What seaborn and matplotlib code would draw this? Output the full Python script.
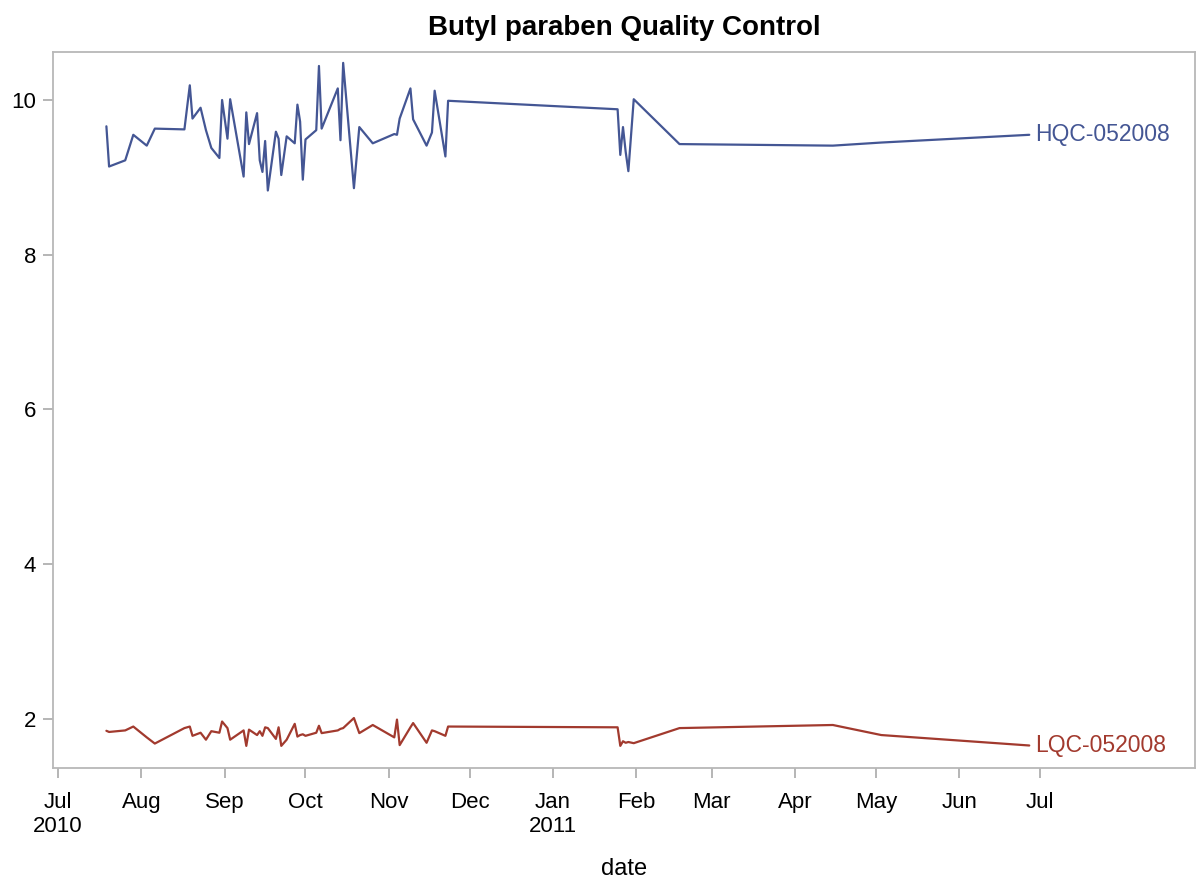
import pandas as pd
import matplotlib
matplotlib.use("Agg")
import matplotlib.pyplot as plt
import seaborn as sns

# run dates (shared by both QC levels)
dates = [
    "2010-07-19", "2010-07-20", "2010-07-26", "2010-07-29", "2010-08-03", "2010-08-06",
    "2010-08-17", "2010-08-19", "2010-08-20", "2010-08-23", "2010-08-25", "2010-08-27",
    "2010-08-30", "2010-08-31", "2010-09-02", "2010-09-03", "2010-09-08", "2010-09-09",
    "2010-09-10", "2010-09-13", "2010-09-14", "2010-09-15", "2010-09-16", "2010-09-17",
    "2010-09-20", "2010-09-21", "2010-09-22", "2010-09-24", "2010-09-27", "2010-09-28",
    "2010-09-29", "2010-09-30", "2010-10-01", "2010-10-05", "2010-10-06", "2010-10-07",
    "2010-10-13", "2010-10-14", "2010-10-15", "2010-10-19", "2010-10-21", "2010-10-26",
    "2010-11-03", "2010-11-04", "2010-11-05", "2010-11-09", "2010-11-10", "2010-11-15",
    "2010-11-17", "2010-11-18", "2010-11-22", "2010-11-23", "2011-01-25", "2011-01-26",
    "2011-01-27", "2011-01-28", "2011-01-29", "2011-01-31", "2011-02-17", "2011-04-15",
    "2011-05-03", "2011-06-27",
]

hqc = [
    9.66, 9.14, 9.22, 9.55, 9.41, 9.63,
    9.62, 10.19, 9.76, 9.90, 9.61, 9.38,
    9.25, 10.00, 9.50, 10.01, 9.01, 9.84,
    9.43, 9.83, 9.22, 9.07, 9.47, 8.83,
    9.59, 9.50, 9.03, 9.53, 9.44, 9.94,
    9.72, 8.97, 9.49, 9.61, 10.44, 9.63,
    10.15, 9.48, 10.48, 8.86, 9.65, 9.44,
    9.56, 9.55, 9.76, 10.15, 9.75, 9.41,
    9.58, 10.12, 9.27, 9.99, 9.88, 9.29,
    9.65, 9.33, 9.08, 10.01, 9.43, 9.41,
    9.45, 9.55,
]

lqc = [
    1.845, 1.83, 1.85, 1.90, 1.76, 1.68,
    1.88, 1.90, 1.78, 1.82, 1.73, 1.84,
    1.82, 1.965, 1.88, 1.73, 1.85, 1.65,
    1.86, 1.79, 1.84, 1.78, 1.89, 1.88,
    1.74, 1.89, 1.65, 1.73, 1.935, 1.77,
    1.79, 1.80, 1.78, 1.82, 1.91, 1.815,
    1.85, 1.87, 1.88, 2.01, 1.815, 1.92,
    1.76, 1.99, 1.66, 1.89, 1.945, 1.69,
    1.85, 1.84, 1.78, 1.90, 1.89, 1.65,
    1.71, 1.69, 1.70, 1.685, 1.88, 1.92,
    1.79, 1.655,
]

series_names = ["HQC-052008", "LQC-052008"]
series_colors = ["#445694", "#A23A2E"]

df = pd.DataFrame({
    "date": pd.to_datetime(dates * 2),
    "conc": hqc + lqc,
    "sample": [series_names[0]] * len(hqc) + [series_names[1]] * len(lqc),
})

sns.set_style("white")
plt.rcParams["font.family"] = ["Liberation Sans", "DejaVu Sans"]

fig = plt.figure(figsize=(11.97, 8.85), dpi=100)
ax = fig.add_axes([0.0443, 0.1322, 0.954, 0.809])

sns.lineplot(data=df, x="date", y="conc", hue="sample", palette=series_colors,
             linewidth=1.6, legend=False, ax=ax)

# curve labels at the end of each line
for name, col, vals in zip(series_names, series_colors, [hqc, lqc]):
    ax.annotate(name, xy=(pd.Timestamp(dates[-1]), vals[-1]), xytext=(4, 0),
                textcoords="offset points", va="center", ha="left",
                color=col, fontsize=16.5)

ax.set_xlim(pd.Timestamp("2010-06-29 04:00"), pd.Timestamp("2011-08-27 14:00"))
ax.set_ylim(1.364, 10.62)
ax.set_yticks([2, 4, 6, 8, 10])

month_ticks = pd.date_range("2010-07-01", "2011-07-01", freq="MS")
month_labels = [d.strftime("%b") + ("\n" + d.strftime("%Y") if (i == 0 or d.month == 1) else "")
                for i, d in enumerate(month_ticks)]
ax.set_xticks(month_ticks)
ax.set_xticklabels(month_labels, linespacing=1.2)

ax.tick_params(axis="both", which="major", direction="out", length=7, width=1.3,
               color="#b0b0b0", labelsize=16, labelcolor="black",
               bottom=True, left=True)
ax.tick_params(axis="x", pad=10)
ax.tick_params(axis="y", pad=5)

for spine in ax.spines.values():
    spine.set_color("#b8b8b8")
    spine.set_linewidth(1.3)

ax.set_xlabel("date", fontsize=17, labelpad=15, color="black")
ax.set_ylabel("")
ax.set_title("Butyl paraben Quality Control", fontsize=20, fontweight="bold",
             pad=12, color="black")

fig.savefig("out.png", dpi=100)
